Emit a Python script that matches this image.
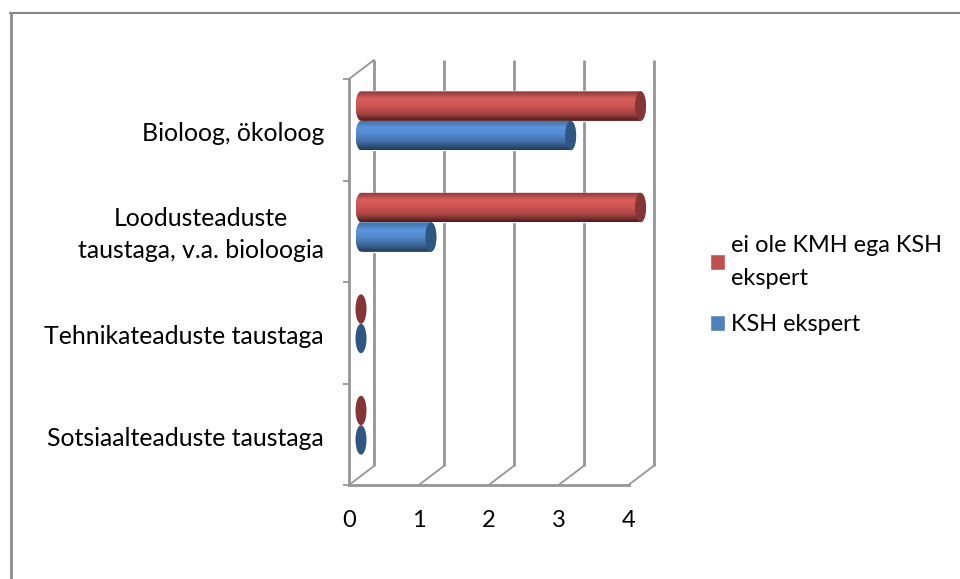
import numpy as np, pandas as pd, matplotlib, seaborn as sns
matplotlib.use("Agg")
import matplotlib.pyplot as plt
from matplotlib.colors import LinearSegmentedColormap
from matplotlib.lines import Line2D
from matplotlib.patches import Ellipse, Polygon
from matplotlib.transforms import ScaledTranslation

categories = ["Bioloog, ökoloog", "Loodusteaduste\ntaustaga, v.a. bioloogia", "Tehnikateaduste taustaga", "Sotsiaalteaduste taustaga"]
series_names = ["ei ole KMH ega KSH\nekspert", "KSH ekspert"]
red_values = [4, 4, 0, 0]
blue_values = [3, 1, 0, 0]
x_ticks = [0, 1, 2, 3, 4]
base_colors = ["#C0504D", "#4F81BD"]
cap_colors = ["#853535", "#2F5583"]
shades = [["#8A3836", "#D95D5A", "#CC5552", "#A84644", "#4F1B19"],
          ["#3F6EA3", "#5B96DC", "#5289CC", "#40699C", "#1F3A5C"]]
GRID = "#969696"
W, H = 960, 579

sns.set_style("white")
plt.rcParams["font.family"] = ["Lato", "DejaVu Sans"]
FS_Y, FS_LEG, FS_X = 17.95, 16.9, 17

df = pd.DataFrame({"cat": categories * 2,
                   "serie": [series_names[0]] * 4 + [series_names[1]] * 4,
                   "val": red_values + blue_values})

def rect(l, t, r, b):
    return [l / W, 1 - b / H, (r - l) / W, (b - t) / H]

fig = plt.figure(figsize=(W / 100, H / 100), dpi=100)
ax = fig.add_axes(rect(349, 79, 628.5, 485))
ax_bars = fig.add_axes(rect(361, 70, 640.5, 476))  # plane in the middle of the 3d depth
ax_bars.patch.set_visible(False)

sns.barplot(data=df, y="cat", x="val", hue="serie", hue_order=series_names, order=categories,
            palette=base_colors, saturation=1, width=0.58, gap=0, ax=ax_bars, orient="h")
xlim, ylim = (0, 4), (3.5, -0.5)
ax_bars.set_xlim(xlim); ax_bars.set_ylim(ylim)

# cylinders on top of the flat bars
rx = 5.5 / (279.5 / 4)
th = np.linspace(-np.pi / 2, np.pi / 2, 40)
for cont, cols, cap in list(zip(ax_bars.containers, shades, cap_colors))[::-1]:
    cmap = LinearSegmentedColormap.from_list("c", cols)
    grad = np.linspace(0, 1, 64)[:, None]
    for p in cont:
        w, y, h = p.get_width(), p.get_y(), p.get_height()
        yc = y + h / 2
        if w > 0:
            right = np.c_[w + rx * np.cos(th), yc + h / 2 * np.sin(th)]
            left = np.c_[-rx * np.cos(th[::-1]), yc + h / 2 * np.sin(th[::-1])]
            body = Polygon(np.r_[right, left], transform=ax_bars.transData)
            im = ax_bars.imshow(grad, cmap=cmap, extent=(-rx, w + rx, y + h, y), origin="upper", aspect="auto", zorder=3)
            im.set_clip_path(body)
            im.set_clip_box(fig.bbox)
        ax_bars.add_patch(Ellipse((w, yc), 2 * rx, h, fc=cap, ec="none", zorder=3, clip_on=False))
ax_bars.set_xlim(xlim); ax_bars.set_ylim(ylim)

sns.move_legend(ax_bars, "upper left", bbox_to_anchor=(710 / W, 1 - 235 / H), bbox_transform=fig.transFigure,
                title=None, frameon=False, fontsize=FS_LEG, handlelength=0.65, handleheight=0.65, handletextpad=0.25,
                labelspacing=1.07, borderpad=0, borderaxespad=0)
for t in ax_bars.get_legend().get_texts():
    t.set_color("black"); t.set_linespacing(1.7)
ax_bars.axis("off")

# front axes: spines, ticks, labels
ax.set_xlim(xlim); ax.set_ylim(ylim)
ax.set_xticks(x_ticks)
ax.set_yticks(range(4), categories, multialignment="center")
ax.set_yticks(np.arange(5) - 0.5, minor=True)
ax.tick_params(axis="x", length=4.5, width=1.3, color=GRID, labelsize=FS_X, pad=13.5, labelcolor="black")
ax.tick_params(axis="y", which="major", length=0, labelsize=FS_Y, pad=18, labelcolor="black")
ax.tick_params(axis="y", which="minor", length=4.5, width=1.3, color=GRID, left=True)
for lab in ax.get_yticklabels():
    lab.set_linespacing(1.5)
    shift = 3.5 if "\n" in lab.get_text() else -2
    lab.set_transform(lab.get_transform() + ScaledTranslation(0, shift / 100, fig.dpi_scale_trans))
for s in ["top", "right"]:
    ax.spines[s].set_visible(False)
for s in ["left", "bottom"]:
    ax.spines[s].set_color(GRID); ax.spines[s].set_linewidth(2)
ax.patch.set_visible(False)

# back wall and floor
dx, dy = 25 / (279.5 / 4), 19 / (406 / 4)
ax.vlines(np.array(x_ticks) + dx, -0.5 - dy, 3.5 - dy, color=GRID, lw=2, clip_on=False, zorder=1)
for k in x_ticks:
    ax.plot([k, k + dx], [3.5, 3.5 - dy], color=GRID, lw=1.3, clip_on=False, zorder=1)
ax.plot([0, dx], [-0.5, -0.5 - dy], color=GRID, lw=1.3, clip_on=False, zorder=1)

# chart frame, only top and left are in the picture
fig.add_artist(Line2D([10 / W, 1], [1 - 13 / H] * 2, color="#868686", lw=1.5))
fig.add_artist(Line2D([10.5 / W] * 2, [0, 1 - 13 / H], color="#8C8C8C", lw=2))

fig.savefig("out.png", dpi=100)
